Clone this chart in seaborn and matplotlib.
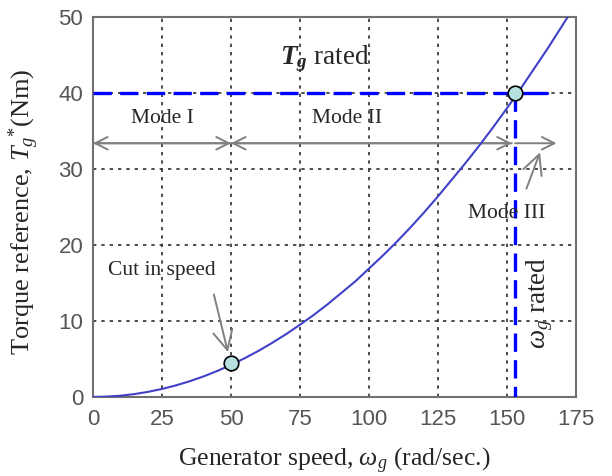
import matplotlib
matplotlib.use("Agg")
import matplotlib.pyplot as plt
import seaborn as sns
import pandas as pd

# Torque reference curve (generator speed in rad/s, torque in Nm)
speed = [0, 5, 10, 15, 20, 25, 30, 35, 40, 45, 50, 55, 60, 65, 70, 75, 80, 85, 90,
         95, 100, 105, 110, 115, 120, 125, 130, 135, 140, 145, 150, 155, 160, 165, 172]
torque = [0.0, 0.05, 0.17, 0.38, 0.68, 1.06, 1.52, 2.07, 2.70, 3.42, 4.22, 5.11, 6.08,
          7.14, 8.28, 9.51, 10.8, 12.2, 13.7, 15.2, 16.9, 18.6, 20.4, 22.3, 24.3, 26.4,
          28.6, 30.8, 33.1, 35.5, 38.0, 40.6, 43.3, 46.0, 50.0]

# Operating points: cut-in speed and rated point
point_speed = [50, 153]
point_torque = [4.5, 40]

rated_torque = 40
rated_speed = 153
cut_in_speed = 50
mode3_end = 168

x_ticks = [0, 25, 50, 75, 100, 125, 150, 175]
y_ticks = [0, 10, 20, 30, 40, 50]

sns.set_style("white")
plt.rcParams["font.family"] = ["Liberation Serif", "DejaVu Serif"]
plt.rcParams["mathtext.fontset"] = "custom"
plt.rcParams["mathtext.rm"] = "Liberation Serif"
plt.rcParams["mathtext.it"] = "Liberation Serif:italic"
plt.rcParams["mathtext.bf"] = "Liberation Serif:bold:italic"

fig = plt.figure(figsize=(6.12, 4.76), dpi=100)
ax = fig.add_axes([0.152, 0.166, 0.789, 0.798])

curve = pd.DataFrame({"speed": speed, "torque": torque})
sns.lineplot(data=curve, x="speed", y="torque", ax=ax, color="#4040c8", lw=1.5, zorder=4)

# rated torque / rated speed limits
ax.plot([0, rated_speed], [rated_torque, rated_torque], color="#0000ff", lw=2.4,
        dashes=(5.5, 2.5), zorder=3)
ax.plot([rated_speed, 164.5], [rated_torque, rated_torque], color="#0000ff", lw=2.4, zorder=3)
ax.plot([rated_speed, rated_speed], [rated_torque, 0], color="#0000ff", lw=2.4,
        dashes=(5.5, 2.5), zorder=3)

pts = pd.DataFrame({"speed": point_speed, "torque": point_torque})
sns.scatterplot(data=pts, x="speed", y="torque", ax=ax, s=110, color="#b4e0e0",
                edgecolor="black", linewidth=1.2, zorder=6)

ax.set_xlim(0, 175)
ax.set_ylim(0, 50)
ax.set_xticks(x_ticks)
ax.set_yticks(y_ticks)
ax.grid(True, color="#303030", linestyle=(0, (2, 3)), lw=1.2)
for sp in ax.spines.values():
    sp.set_color("#707070")
    sp.set_linewidth(1.5)
ax.tick_params(axis="x", length=0, pad=9, labelsize=16, labelcolor="#555555")
ax.tick_params(axis="y", length=0, pad=7, labelsize=16, labelcolor="#555555")
for lab in ax.get_xticklabels() + ax.get_yticklabels():
    lab.set_family("Liberation Sans")

ax.set_xlabel(r"Generator speed, $\omega_g$ (rad/sec.)", fontsize=18.5)
ax.xaxis.set_label_coords(0.5, -0.128)
ax.set_ylabel(r"Torque reference, $T_g{}^{*}$(Nm)", fontsize=19)
ax.yaxis.set_label_coords(-0.108, 0.487)

arrow_kw = dict(arrowstyle="->,head_length=0.9,head_width=0.45", color="#808080", lw=1.4,
                shrinkA=0, shrinkB=0)
# Mode spans
ax.annotate("", xy=(0, 33.4), xytext=(cut_in_speed, 33.4), arrowprops=arrow_kw)
ax.annotate("", xy=(cut_in_speed, 33.4), xytext=(0, 33.4), arrowprops=arrow_kw)
ax.annotate("", xy=(cut_in_speed, 33.4), xytext=(151.8, 33.4), arrowprops=arrow_kw)
ax.annotate("", xy=(151.8, 33.4), xytext=(cut_in_speed, 33.4), arrowprops=arrow_kw)
ax.annotate("", xy=(mode3_end, 33.4), xytext=(rated_speed, 33.4), arrowprops=arrow_kw)

ax.text(25, 36.6, "Mode I", fontsize=15.5, ha="center", va="center")
ax.text(92, 36.6, "Mode II", fontsize=15.5, ha="center", va="center")
ax.annotate("Mode III", xy=(162, 32.2), xytext=(150, 24.2), fontsize=15.5,
            ha="center", va="center",
            arrowprops=dict(arrowstyle="->,head_length=0.9,head_width=0.45", color="#808080",
                            lw=1.4, shrinkA=9, shrinkB=0, relpos=(0.68, 1.0)))
ax.annotate("Cut in speed", xy=(48.9, 5.9), xytext=(25, 16.6), fontsize=15.5,
            ha="center", va="center",
            arrowprops=dict(arrowstyle="->,head_length=0.9,head_width=0.45", color="#808080",
                            lw=1.4, shrinkA=8, shrinkB=0, relpos=(0.95, 0.0)))

ax.text(84, 44.5, r"$\mathbf{T_g}$ rated", fontsize=19.5, ha="center", va="center")
ax.text(162, 12.4, r"$\omega_g$ rated", fontsize=19.5, ha="center", va="center", rotation=90)

fig.savefig("out.png", dpi=100)
